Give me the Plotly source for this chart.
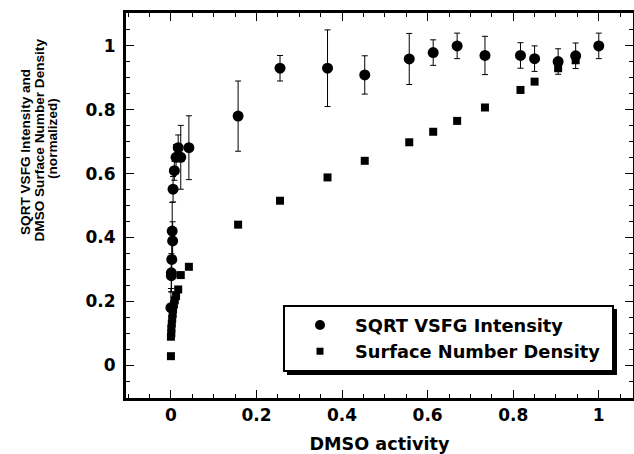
import plotly.graph_objects as go

# SQRT VSFG intensity (circles) with error bars
vsfg_x = [0.000, 0.001, 0.001, 0.002, 0.004, 0.003, 0.005, 0.008, 0.012, 0.023, 0.017, 0.042,
          0.157, 0.255, 0.366, 0.453, 0.557, 0.613, 0.669, 0.734, 0.817, 0.850, 0.905, 0.946, 1.000]
vsfg_y = [0.18, 0.289, 0.280, 0.331, 0.389, 0.420, 0.551, 0.609, 0.651, 0.651, 0.681, 0.681,
          0.78, 0.93, 0.93, 0.909, 0.959, 0.979, 1.0, 0.97, 0.97, 0.96, 0.951, 0.969, 1.0]
vsfg_err = [0.06, 0.06, 0.05, 0.06, 0.06, 0.09, 0.04, 0.03, 0.04, 0.10, 0.04, 0.10,
            0.11, 0.04, 0.12, 0.06, 0.08, 0.04, 0.04, 0.06, 0.04, 0.04, 0.04, 0.04, 0.04]

# Surface number density (squares)
dens_x = [0.000, 0.000, 0.001, 0.001, 0.002, 0.003, 0.004, 0.005, 0.007, 0.009, 0.012, 0.017,
          0.023, 0.042, 0.157, 0.255, 0.366, 0.453, 0.557, 0.613, 0.669, 0.734, 0.817, 0.850,
          0.905, 0.946, 1.000]
dens_y = [0.028, 0.089, 0.100, 0.115, 0.130, 0.145, 0.160, 0.175, 0.190, 0.203, 0.216, 0.237,
          0.282, 0.308, 0.440, 0.515, 0.588, 0.640, 0.698, 0.731, 0.765, 0.807, 0.862, 0.888,
          0.930, 0.955, 1.000]

x_ticks = [0, 0.2, 0.4, 0.6, 0.8, 1]
x_labels = ["0", "0.2", "0.4", "0.6", "0.8", "1"]
y_ticks = [0, 0.2, 0.4, 0.6, 0.8, 1]
y_labels = ["0", "0.2", "0.4", "0.6", "0.8", "1"]

FONT = "DejaVu Sans, Verdana, sans-serif"
SANS = "Liberation Sans, Arial, sans-serif"
XR = [-0.105, 1.08]
YR = [-0.103, 1.103]
L, R, T, B = 126, 1, 13, 56
PW, PH = 634 - L - R, 454 - T - B

fig = go.Figure()
fig.add_trace(go.Scatter(
    x=vsfg_x, y=vsfg_y, mode="markers", showlegend=False,
    marker=dict(symbol="circle", size=11, color="black"),
    error_y=dict(type="data", array=vsfg_err, visible=True, color="black", thickness=1, width=3),
))
fig.add_trace(go.Scatter(
    x=dens_x, y=dens_y, mode="markers", showlegend=False,
    marker=dict(symbol="square", size=8, color="black"),
))
# legend entries
fig.add_trace(go.Scatter(x=[None], y=[None], mode="markers",
                         name="SQRT VSFG Intensity",
                         marker=dict(symbol="circle", size=10, color="black")))
fig.add_trace(go.Scatter(x=[None], y=[None], mode="markers",
                         name="Surface Number Density\u00a0",
                         marker=dict(symbol="square", size=7, color="black")))

tickfont = dict(family=FONT, size=17, color="black", weight="bold")
minor_ticks = dict(dtick=0.05, ticks="inside", ticklen=4, tickcolor="black", tickwidth=1, showgrid=False)

fig.update_layout(
    width=634, height=454,
    margin=dict(l=L, r=R, t=T, b=B),
    paper_bgcolor="white", plot_bgcolor="white",
    showlegend=True,
    legend=dict(x=(283 - L) / PW, y=(398 - 305) / PH, xanchor="left", yanchor="top",
                bgcolor="white", bordercolor="black", borderwidth=2,
                font=dict(family=FONT, size=17.8, color="black", weight="bold"),
                itemwidth=60),
    xaxis=dict(range=XR, tickvals=x_ticks, ticktext=x_labels, tickfont=tickfont, automargin=False,
               showgrid=False, zeroline=False, showline=True, linecolor="black", linewidth=3,
               ticks="inside", ticklen=8, tickwidth=1, tickcolor="black",
               minor=minor_ticks,
               title=dict(text="DMSO activity",
                          font=dict(family=FONT, size=17.6, color="black", weight="bold"),
                          standoff=17)),
    yaxis=dict(range=YR, tickvals=y_ticks, ticktext=y_labels, tickfont=tickfont, automargin=False,
               showgrid=False, zeroline=False, showline=True, linecolor="black", linewidth=3,
               ticks="inside", ticklen=8, tickwidth=1, tickcolor="black", ticklabelstandoff=4,
               minor=minor_ticks),
    xaxis2=dict(range=XR, overlaying="x", side="top", showticklabels=False, automargin=False,
                tickvals=x_ticks, showgrid=False, zeroline=False, showline=True, linecolor="black",
                linewidth=3, ticks="inside", ticklen=8, tickcolor="black", minor=minor_ticks),
    yaxis2=dict(range=YR, overlaying="y", side="right", showticklabels=False, automargin=False,
                tickvals=y_ticks, showgrid=False, zeroline=False, showline=True, linecolor="black",
                linewidth=2, ticks="inside", ticklen=8, tickcolor="black", minor=minor_ticks),
)

# invisible trace so the overlay (top/right) axes render
fig.add_trace(go.Scatter(x=[None], y=[None], xaxis="x2", yaxis="y2", showlegend=False, hoverinfo="skip"))

# Y-axis title as three rotated lines
ylines = ["SQRT VSFG Intensity and",
          "DMSO Surface Number Density",
          "(normalized)"]
xpos = [25, 38.5, 52]
ymid = [152, 140, 139]
for t, px, ym in zip(ylines, xpos, ymid):
    fig.add_annotation(text=t, textangle=-90, xref="paper", yref="paper",
                       x=(px - L) / PW, y=(398 - ym) / PH, xanchor="center", yanchor="middle",
                       showarrow=False,
                       font=dict(family=SANS, size=13.6, color="black", weight="bold"))

# legend drop shadow
fig.add_shape(type="rect", xref="paper", yref="paper",
              x0=(287 - L) / PW, x1=(617 - L) / PW,
              y0=(398 - 375) / PH, y1=(398 - 309) / PH,
              fillcolor="black", line=dict(width=0), layer="above")

fig.write_html("out.html", config={"displayModeBar": False},
               post_script="document.body.style.margin='0';document.body.style.overflow='hidden';")
